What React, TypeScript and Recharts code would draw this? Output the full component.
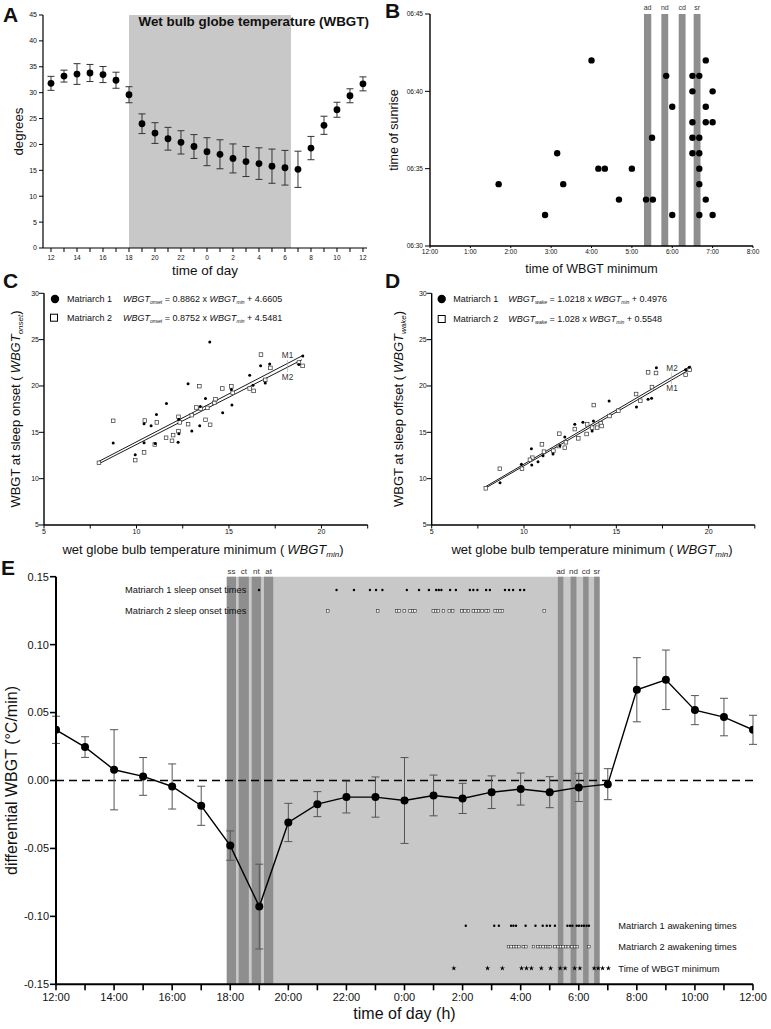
import React from 'react';
import {
  ScatterChart,
  ComposedChart,
  Scatter,
  Line,
  XAxis,
  YAxis,
  ErrorBar,
  ReferenceArea,
  ReferenceLine,
} from 'recharts';

const FONT = '"Liberation Sans", Arial, Helvetica, sans-serif';

// ---------------- Panel A : hourly WBGT ----------------
const aHours = [0, 1, 2, 3, 4, 5, 6, 7, 8, 9, 10, 11, 12, 13, 14, 15, 16, 17, 18, 19, 20, 21, 22, 23, 24];
const aMean = [31.8, 33.2, 33.6, 33.8, 33.5, 32.4, 29.6, 24.0, 22.2, 21.1, 20.4, 19.6, 18.6, 18.1, 17.3, 16.7, 16.3, 15.8, 15.5, 15.2, 19.3, 23.7, 26.7, 29.4, 31.7];
const aErr = [1.35, 1.15, 2.0, 1.65, 1.55, 1.55, 1.55, 1.9, 2.0, 2.2, 2.25, 2.3, 2.7, 2.8, 2.8, 2.9, 3.05, 3.3, 3.35, 3.5, 2.25, 1.75, 1.45, 1.35, 1.35];
const aNight = [6, 18.46];
const aYTicks = [0, 5, 10, 15, 20, 25, 30, 35, 40, 45];

// ---------------- Panel B : sunrise vs WBGT minimum ----------------
const bWbgtMin = [1.7, 2.85, 3.15, 3.3, 4.0, 4.17, 4.33, 4.68, 5.0, 5.35, 5.52, 5.5, 5.85, 6.0, 6.0, 6.5, 6.5, 6.5, 6.5, 6.5, 6.67, 6.67, 6.67, 6.67, 6.67, 6.67, 6.83, 6.83, 6.83, 6.83, 7.0, 7.0, 7.0];
const bSunrise = [34, 32, 36, 34, 42, 35, 35, 33, 35, 33, 33, 37, 41, 39, 32, 41, 40, 38, 37, 36, 41, 37, 36, 35, 34, 32, 42, 39, 38, 33, 40, 38, 32];
const bBands = [
  { label: 'ad', from: 5.3, to: 5.48 },
  { label: 'nd', from: 5.73, to: 5.9 },
  { label: 'cd', from: 6.16, to: 6.33 },
  { label: 'sr', from: 6.53, to: 6.7 },
];
const bXTicks = [0, 1, 2, 3, 4, 5, 6, 7, 8];
const bYTicks = [30, 35, 40, 45];

// ---------------- Panel C : WBGT at sleep onset ----------------
const cM1 = [
  [8.74, 13.84], [9.93, 12.58], [10.41, 13.87], [10.41, 15.92], [10.79, 15.7], [11.08, 16.93], [11.01, 13.8],
  [11.62, 18.11], [12.25, 13.94], [12.29, 14.84], [12.29, 16.42], [12.79, 20.23], [12.99, 15.13], [13.42, 15.7],
  [13.73, 18.65], [13.45, 17.79], [13.96, 24.75], [14.66, 17.1], [15.16, 17.96], [15.13, 19.62], [16.12, 21.16],
  [16.3, 20.09], [16.71, 22.17], [16.96, 20.33], [17.2, 22.38], [18.99, 23.24], [18.78, 22.32],
];
const cM2 = [
  [7.97, 11.71], [8.74, 16.24], [9.93, 12.0], [10.41, 12.83], [10.45, 16.27], [10.99, 13.69], [11.1, 16.07],
  [11.6, 14.41], [11.92, 14.08], [11.98, 14.7], [12.27, 15.13], [12.27, 16.67], [12.34, 16.07], [12.79, 15.88],
  [12.99, 16.85], [13.24, 17.68], [13.4, 19.98], [13.47, 17.57], [13.73, 16.35], [13.83, 17.64], [13.98, 15.81],
  [14.21, 18.18], [14.27, 18.58], [14.64, 19.73], [15.13, 19.95], [15.2, 19.26], [16.12, 19.73], [16.33, 19.47],
  [16.73, 23.39], [16.96, 20.66], [17.24, 21.95], [18.78, 22.53], [18.98, 22.17],
];
const cLineM1 = [[7.97, 11.87], [19.03, 23.33]];
const cLineM2 = [[7.97, 11.61], [18.94, 22.82]];

// ---------------- Panel D : WBGT at sleep offset ----------------
const dM1 = [
  [8.7, 9.57], [9.86, 11.55], [10.4, 13.23], [10.42, 11.47], [10.76, 11.83], [11.03, 12.48], [11.57, 12.66],
  [11.94, 13.55], [12.21, 14.49], [12.75, 15.86], [13.19, 16.08], [13.69, 15.14], [13.76, 16.22], [14.61, 18.38],
  [16.09, 17.73], [16.72, 18.56], [16.91, 18.67], [17.17, 21.97], [18.75, 21.75], [18.95, 22.01],
];
const dM2 = [
  [7.93, 8.96], [8.69, 11.07], [9.89, 11.07], [10.45, 12.26], [10.32, 12.04], [10.97, 13.7], [11.08, 12.91],
  [11.59, 13.02], [11.91, 14.85], [11.89, 13.52], [12.21, 13.34], [12.27, 13.92], [12.94, 14.35], [12.75, 15.35],
  [13.39, 14.82], [13.42, 15.86], [13.78, 17.94], [13.69, 15.5], [13.96, 15.5], [14.16, 15.97], [14.2, 15.68],
  [14.63, 16.76], [15.11, 17.33], [16.07, 19.13], [16.3, 18.41], [16.93, 19.88], [16.72, 21.47], [17.15, 21.4],
  [18.75, 21.21], [18.97, 21.75],
];
const dLineM2 = [[7.93, 9.15], [19.04, 22.15]];
const dLineM1 = [[7.93, 9.0], [19.04, 21.85]];
const cdXTicks = [5, 7.5, 10, 12.5, 15, 17.5, 20, 22.5];
const cdYTicks = [5, 10, 15, 20, 25, 30];

// ---------------- Panel E : differential WBGT ----------------
const eHours = [0, 1, 2, 3, 4, 5, 6, 7, 8, 9, 10, 11, 12, 13, 14, 15, 16, 17, 18, 19, 20, 21, 22, 23, 24];
const eMean = [0.0373, 0.0246, 0.0079, 0.003, -0.0044, -0.0186, -0.0479, -0.0928, -0.0309, -0.0174, -0.0122, -0.0122, -0.0147, -0.011, -0.0132, -0.0086, -0.0063, -0.0086, -0.0051, -0.0027, 0.0668, 0.0741, 0.0518, 0.0467, 0.0373];
const eErr = [0.01, 0.0076, 0.0295, 0.0139, 0.0166, 0.0144, 0.0108, 0.0312, 0.0141, 0.0092, 0.0117, 0.0148, 0.0316, 0.015, 0.0111, 0.012, 0.0118, 0.0114, 0.0104, 0.0114, 0.0236, 0.0219, 0.0107, 0.0138, 0.0107];
const eNight = [5.88, 18.72];
const eBands = [
  { label: 'ss', from: 5.88, to: 6.2 },
  { label: 'ct', from: 6.29, to: 6.64 },
  { label: 'nt', from: 6.74, to: 7.06 },
  { label: 'at', from: 7.16, to: 7.48 },
  { label: 'ad', from: 17.28, to: 17.47 },
  { label: 'nd', from: 17.72, to: 17.92 },
  { label: 'cd', from: 18.15, to: 18.34 },
  { label: 'sr', from: 18.53, to: 18.72 },
];
const eYTicks = [-0.15, -0.1, -0.05, 0, 0.05, 0.1, 0.15];
const m1Onset = [6.99, 9.66, 10.26, 10.81, 11.02, 11.24, 12.08, 12.5, 12.84, 13.09, 13.18, 13.27, 13.57, 13.77, 14.25, 14.37, 14.51, 14.81, 14.94, 15.46, 15.6, 15.74, 15.98, 16.12];
const m2Onset = [9.36, 11.08, 11.73, 11.81, 11.99, 12.19, 12.28, 12.36, 12.99, 13.07, 13.16, 13.34, 13.54, 13.66, 13.97, 14.08, 14.2, 14.37, 14.46, 14.55, 14.67, 14.81, 14.89, 15.12, 15.2, 15.29, 15.37, 16.81];
const m1Wake = [14.11, 15.09, 15.25, 15.67, 15.75, 15.84, 16.17, 16.51, 16.76, 16.9, 17.01, 17.18, 17.61, 17.7, 17.78, 17.93, 18.01, 18.1, 18.18, 18.27, 18.35];
const m2Wake = [15.58, 15.67, 15.76, 15.85, 15.94, 16.09, 16.18, 16.44, 16.59, 16.68, 16.77, 16.86, 16.95, 17.02, 17.18, 17.28, 17.37, 17.46, 17.55, 17.64, 17.76, 17.86, 17.95, 18.35];
const wbgtMinTimes = [13.7, 14.86, 15.37, 16.03, 16.2, 16.37, 16.71, 17.03, 17.36, 17.53, 17.86, 18.04, 18.53, 18.67, 18.82, 19.02];

// row levels (layout, in axis units) for the event strips in panel E
const ROW = { m1Onset: 0.1402, m2Onset: 0.1248, m1Wake: -0.1069, m2Wake: -0.1223, min: -0.1382 };

// ---------------- shapes ----------------
const dot = (r: number) => (p: any) => <circle cx={p.cx} cy={p.cy} r={r} fill="#000" />;
const square = (s: number, sw = 0.7) => (p: any) => (
  <rect x={p.cx - s / 2} y={p.cy - s / 2} width={s} height={s} fill="#fff" stroke="#333" strokeWidth={sw} />
);
const star = (p: any) => {
  const pts: string[] = [];
  for (let i = 0; i < 10; i++) {
    const r = i % 2 === 0 ? 2.7 : 1.1;
    const a = -Math.PI / 2 + (i * Math.PI) / 5;
    pts.push(`${(p.cx + r * Math.cos(a)).toFixed(2)},${(p.cy + r * Math.sin(a)).toFixed(2)}`);
  }
  return <polygon points={pts.join(' ')} fill="#000" />;
};
const none = () => <g />;

const toXY = (arr: number[][]) => arr.map(([x, y]) => ({ x, y }));
const tickStyle = (fs: number) => ({ fontSize: fs, fill: '#111', fontFamily: FONT });

function PanelA() {
  const data = aHours.map((h, i) => ({ x: h, y: aMean[i], e: aErr[i] }));
  return (
    <ScatterChart width={385} height={275} margin={{ top: 15, right: 18, bottom: 0, left: 0 }}>
      <ReferenceArea x1={aNight[0]} x2={aNight[1]} fill="#c8c8c8" fillOpacity={1} stroke="none" />
      <XAxis
        type="number" dataKey="x" domain={[-0.615, 24.31]} ticks={aHours} interval={0}
        tickFormatter={(v: number) => (v % 2 === 0 ? String((12 + v) % 24) : '')}
        tick={tickStyle(6.5)} tickSize={4} tickMargin={3} height={27}
        axisLine={{ stroke: '#000', strokeWidth: 1.2 }} tickLine={{ stroke: '#000' }} allowDataOverflow
      />
      <YAxis
        type="number" dataKey="y" domain={[0, 45]} ticks={aYTicks} interval={0} width={43}
        tick={tickStyle(7)} tickSize={4} tickMargin={2}
        axisLine={{ stroke: '#000', strokeWidth: 1.2 }} tickLine={{ stroke: '#000' }} allowDataOverflow
      />
      <Scatter data={data} shape={dot(3.4)} isAnimationActive={false}>
        <ErrorBar dataKey="e" direction="y" width={3.5} stroke="#333" strokeWidth={1} />
      </Scatter>
    </ScatterChart>
  );
}

function PanelB() {
  const data = bWbgtMin.map((x, i) => ({ x, y: bSunrise[i] }));
  return (
    <ScatterChart width={386} height={275} margin={{ top: 14, right: 18, bottom: 0, left: 0 }}>
      {bBands.map((b) => (
        <ReferenceArea
          key={b.label} x1={b.from} x2={b.to} fill="#8e8e8e" fillOpacity={1} stroke="none"
          label={{ value: b.label, position: 'top', offset: 4, fontSize: 7, fill: '#333', fontFamily: FONT }}
        />
      ))}
      <XAxis
        type="number" dataKey="x" domain={[0, 8]} ticks={bXTicks} interval={0}
        tickFormatter={(v: number) => (v === 0 ? '12:00' : `${v}:00`)}
        tick={tickStyle(6.5)} tickSize={2} tickMargin={1} height={29}
        axisLine={{ stroke: '#000', strokeWidth: 1.4 }} tickLine={{ stroke: '#000' }} allowDataOverflow
      />
      <YAxis
        type="number" dataKey="y" domain={[30, 45]} ticks={bYTicks} interval={0} width={45}
        tickFormatter={(v: number) => `06:${v}`}
        tick={tickStyle(6.5)} tickSize={5} tickMargin={2}
        axisLine={{ stroke: '#000', strokeWidth: 1.4 }} tickLine={{ stroke: '#000' }} allowDataOverflow
      />
      <Scatter data={data} shape={dot(3.2)} isAnimationActive={false} />
    </ScatterChart>
  );
}

function RegressionPanel(props: {
  width: number; yWidth: number; right: number;
  m1: number[][]; m2: number[][]; l1: number[][]; l2: number[][];
}) {
  return (
    <ScatterChart width={props.width} height={280} margin={{ top: 18.3, right: props.right, bottom: 0, left: 0 }}>
      <XAxis
        type="number" dataKey="x" domain={[5, 22.5]} ticks={cdXTicks} interval={0}
        tickFormatter={(v: number) => (Number.isInteger(v) ? String(v) : '')}
        tick={tickStyle(7)} tickSize={3.5} tickMargin={1} height={30}
        axisLine={{ stroke: '#000', strokeWidth: 1.4 }} tickLine={{ stroke: '#000' }} allowDataOverflow
      />
      <YAxis
        type="number" dataKey="y" domain={[5, 30]} ticks={cdYTicks} interval={0} width={props.yWidth}
        tick={tickStyle(7)} tickSize={5} tickMargin={0}
        axisLine={{ stroke: '#000', strokeWidth: 1.4 }} tickLine={{ stroke: '#000' }} allowDataOverflow
      />
      <Scatter data={toXY(props.l1)} shape={none} line={{ stroke: '#000', strokeWidth: 0.9 }} isAnimationActive={false} />
      <Scatter data={toXY(props.l2)} shape={none} line={{ stroke: '#000', strokeWidth: 0.9 }} isAnimationActive={false} />
      <Scatter data={toXY(props.m2)} shape={square(3.6)} isAnimationActive={false} />
      <Scatter data={toXY(props.m1)} shape={dot(1.5)} isAnimationActive={false} />
    </ScatterChart>
  );
}

function PanelE() {
  const data = eHours.map((h, i) => ({ x: h, y: eMean[i], e: eErr[i] }));
  const row = (arr: number[], level: number) => arr.map((x) => ({ x, y: level }));
  return (
    <ComposedChart width={771} height={474} data={data} margin={{ top: 21.7, right: 18, bottom: 0, left: 0 }}>
      <ReferenceArea x1={eNight[0]} x2={eNight[1]} fill="#c8c8c8" fillOpacity={1} stroke="none" />
      {eBands.map((b) => (
        <ReferenceArea
          key={b.label + b.from} x1={b.from} x2={b.to} fill="#8e8e8e" fillOpacity={1} stroke="none"
          label={{ value: b.label, position: 'top', offset: 3, fontSize: 8, fill: '#333', fontFamily: FONT }}
        />
      ))}
      <ReferenceLine y={0} stroke="#000" strokeWidth={1.4} strokeDasharray="8 5" />
      <XAxis
        type="number" dataKey="x" domain={[0, 24]} ticks={eHours} interval={0}
        tickFormatter={(v: number) => (v % 2 === 0 ? `${(12 + v) % 24}:00` : '')}
        tick={tickStyle(11)} tickSize={6} tickMargin={3} height={44.7}
        axisLine={{ stroke: '#000', strokeWidth: 2 }} tickLine={{ stroke: '#000', strokeWidth: 1.6 }} allowDataOverflow
      />
      <YAxis
        type="number" dataKey="y" domain={[-0.15, 0.15]} ticks={eYTicks} interval={0} width={56}
        tickFormatter={(v: number) => v.toFixed(2)}
        tick={tickStyle(11)} tickSize={6} tickMargin={1}
        axisLine={{ stroke: '#000', strokeWidth: 2 }} tickLine={{ stroke: '#000', strokeWidth: 1.6 }} allowDataOverflow
      />
      <Line
        dataKey="y" stroke="#000" strokeWidth={1.4} isAnimationActive={false} activeDot={false}
        dot={(p: any) => <circle key={`d${p.index}`} cx={p.cx} cy={p.cy} r={4} fill="#000" />}
      >
        <ErrorBar dataKey="e" direction="y" width={4} stroke="#555" strokeWidth={1} />
      </Line>
      <Scatter data={row(m1Onset, ROW.m1Onset)} shape={dot(1.2)} isAnimationActive={false} />
      <Scatter data={row(m2Onset, ROW.m2Onset)} shape={square(2.5, 0.6)} isAnimationActive={false} />
      <Scatter data={row(m1Wake, ROW.m1Wake)} shape={dot(1.2)} isAnimationActive={false} />
      <Scatter data={row(m2Wake, ROW.m2Wake)} shape={square(2.5, 0.6)} isAnimationActive={false} />
      <Scatter data={row(wbgtMinTimes, ROW.min)} shape={star} isAnimationActive={false} />
    </ComposedChart>
  );
}

function Overlay() {
  const t = { fontFamily: FONT, fill: '#111' } as const;
  const eq = (x: number, y: number, kind: string, slope: string, icpt: string) => (
    <text x={x} y={y} fontSize={9} {...t}>
      <tspan fontStyle="italic">WBGT</tspan>
      <tspan fontSize={5} fontStyle="italic" dy={2}>{kind}</tspan>
      <tspan dy={-2}>{` = ${slope} x `}</tspan>
      <tspan fontStyle="italic">WBGT</tspan>
      <tspan fontSize={5} fontStyle="italic" dy={2}>min</tspan>
      <tspan dy={-2}>{` + ${icpt}`}</tspan>
    </text>
  );
  return (
    <svg width={771} height={1029} style={{ position: 'absolute', left: 0, top: 0, pointerEvents: 'none' }}>
      {/* panel letters */}
      <text x={3} y={22} fontSize={21} fontWeight="bold" {...t}>A</text>
      <text x={385} y={18} fontSize={21} fontWeight="bold" {...t}>B</text>
      <text x={3} y={288} fontSize={21} fontWeight="bold" {...t}>C</text>
      <text x={385} y={288} fontSize={21} fontWeight="bold" {...t}>D</text>
      <text x={1} y={575} fontSize={21} fontWeight="bold" {...t}>E</text>

      {/* A */}
      <text x={138.5} y={26.3} fontSize={13.4} fontWeight="bold" {...t}>Wet bulb globe temperature (WBGT)</text>
      <text transform="translate(23,131.5) rotate(-90)" textAnchor="middle" fontSize={13.3} {...t}>degrees</text>
      <text x={205} y={275} textAnchor="middle" fontSize={13.5} {...t}>time of day</text>

      {/* B */}
      <text transform="translate(398,130) rotate(-90)" textAnchor="middle" fontSize={12.5} {...t}>time of sunrise</text>
      <text x={591.5} y={273} textAnchor="middle" fontSize={12.5} {...t}>time of WBGT minimum</text>

      {/* C */}
      <circle cx={55} cy={299} r={4.2} fill="#000" />
      <text x={67} y={302.3} fontSize={9} {...t}>Matriarch 1</text>
      {eq(123, 302.3, 'onset', '0.8862', '4.6605')}
      <rect x={50.5} y={314.2} width={7} height={7} fill="#fff" stroke="#000" strokeWidth={1} />
      <text x={67} y={321} fontSize={9} {...t}>Matriarch 2</text>
      {eq(123, 321, 'onset', '0.8752', '4.5481')}
      <text x={287.5} y={358.3} textAnchor="middle" fontSize={8.2} fill="#333" fontFamily={FONT}>M1</text>
      <line x1={287.5} y1={360} x2={287.5} y2={372} stroke="#aaa" strokeWidth={0.6} />
      <text x={287.5} y={380} textAnchor="middle" fontSize={8.2} fill="#333" fontFamily={FONT}>M2</text>
      <text transform="translate(20,409) rotate(-90)" textAnchor="middle" fontSize={13} {...t}>
        WBGT at sleep onset (<tspan dx={3} fontStyle="italic">WBGT</tspan>
        <tspan fontSize={8} fontStyle="italic" dy={3}>onset</tspan>
        <tspan dy={-3}>)</tspan>
      </text>
      <text x={203} y={554} textAnchor="middle" fontSize={13} {...t}>
        wet globe bulb temperature minimum (<tspan dx={3} fontStyle="italic">WBGT</tspan>
        <tspan fontSize={8} fontStyle="italic" dy={3}>min</tspan>
        <tspan dy={-3}>)</tspan>
      </text>

      {/* D */}
      <circle cx={441.7} cy={299} r={4.2} fill="#000" />
      <text x={453.3} y={302.3} fontSize={9} {...t}>Matriarch 1</text>
      {eq(508.3, 302.3, 'wake', '1.0218', '0.4976')}
      <rect x={438.2} y={315.5} width={7} height={7} fill="#fff" stroke="#000" strokeWidth={1} />
      <text x={453.3} y={322.3} fontSize={9} {...t}>Matriarch 2</text>
      {eq(508.3, 322.3, 'wake', '1.028', '0.5548')}
      <text x={672} y={370.7} textAnchor="middle" fontSize={8.2} fill="#333" fontFamily={FONT}>M2</text>
      <line x1={671.5} y1={372.5} x2={671.5} y2={384.3} stroke="#aaa" strokeWidth={0.6} />
      <text x={672} y={391} textAnchor="middle" fontSize={8.2} fill="#333" fontFamily={FONT}>M1</text>
      <text transform="translate(402.5,409) rotate(-90)" textAnchor="middle" fontSize={13} {...t}>
        WBGT at sleep offset (<tspan dx={3} fontStyle="italic">WBGT</tspan>
        <tspan fontSize={8} fontStyle="italic" dy={3}>wake</tspan>
        <tspan dy={-3}>)</tspan>
      </text>
      <text x={592} y={554} textAnchor="middle" fontSize={13} {...t}>
        wet globe bulb temperature minimum (<tspan dx={3} fontStyle="italic">WBGT</tspan>
        <tspan fontSize={8} fontStyle="italic" dy={3}>min</tspan>
        <tspan dy={-3}>)</tspan>
      </text>

      {/* E */}
      <text x={125} y={593.3} fontSize={9.3} {...t}>Matriarch 1 sleep onset times</text>
      <text x={125} y={614.3} fontSize={9.3} {...t}>Matriarch 2 sleep onset times</text>
      <text x={618.3} y={929} fontSize={9.3} {...t}>Matriarch 1 awakening times</text>
      <text x={618.3} y={950} fontSize={9.3} {...t}>Matriarch 2 awakening times</text>
      <text x={618.3} y={971.6} fontSize={9.3} {...t}>Time of WBGT minimum</text>
      <text transform="translate(16.5,780.5) rotate(-90)" textAnchor="middle" fontSize={16} {...t}>differential WBGT (°C/min)</text>
      <text x={404.5} y={1019} textAnchor="middle" fontSize={16} {...t}>time of day (h)</text>
    </svg>
  );
}

export default function App() {
  return (
    <div style={{ position: 'absolute', left: 0, top: 0, width: 771, height: 1029, background: '#fff', fontFamily: FONT, overflow: 'hidden' }}>
      <div style={{ position: 'absolute', left: 0, top: 0 }}><PanelA /></div>
      <div style={{ position: 'absolute', left: 385, top: 0 }}><PanelB /></div>
      <div style={{ position: 'absolute', left: 0, top: 275 }}>
        <RegressionPanel width={385} yWidth={44} right={17.3} m1={cM1} m2={cM2} l1={cLineM1} l2={cLineM2} />
      </div>
      <div style={{ position: 'absolute', left: 385, top: 275 }}>
        <RegressionPanel width={386} yWidth={46.7} right={16.2} m1={dM1} m2={dM2} l1={dLineM2} l2={dLineM1} />
      </div>
      <div style={{ position: 'absolute', left: 0, top: 555 }}><PanelE /></div>
      <Overlay />
    </div>
  );
}
